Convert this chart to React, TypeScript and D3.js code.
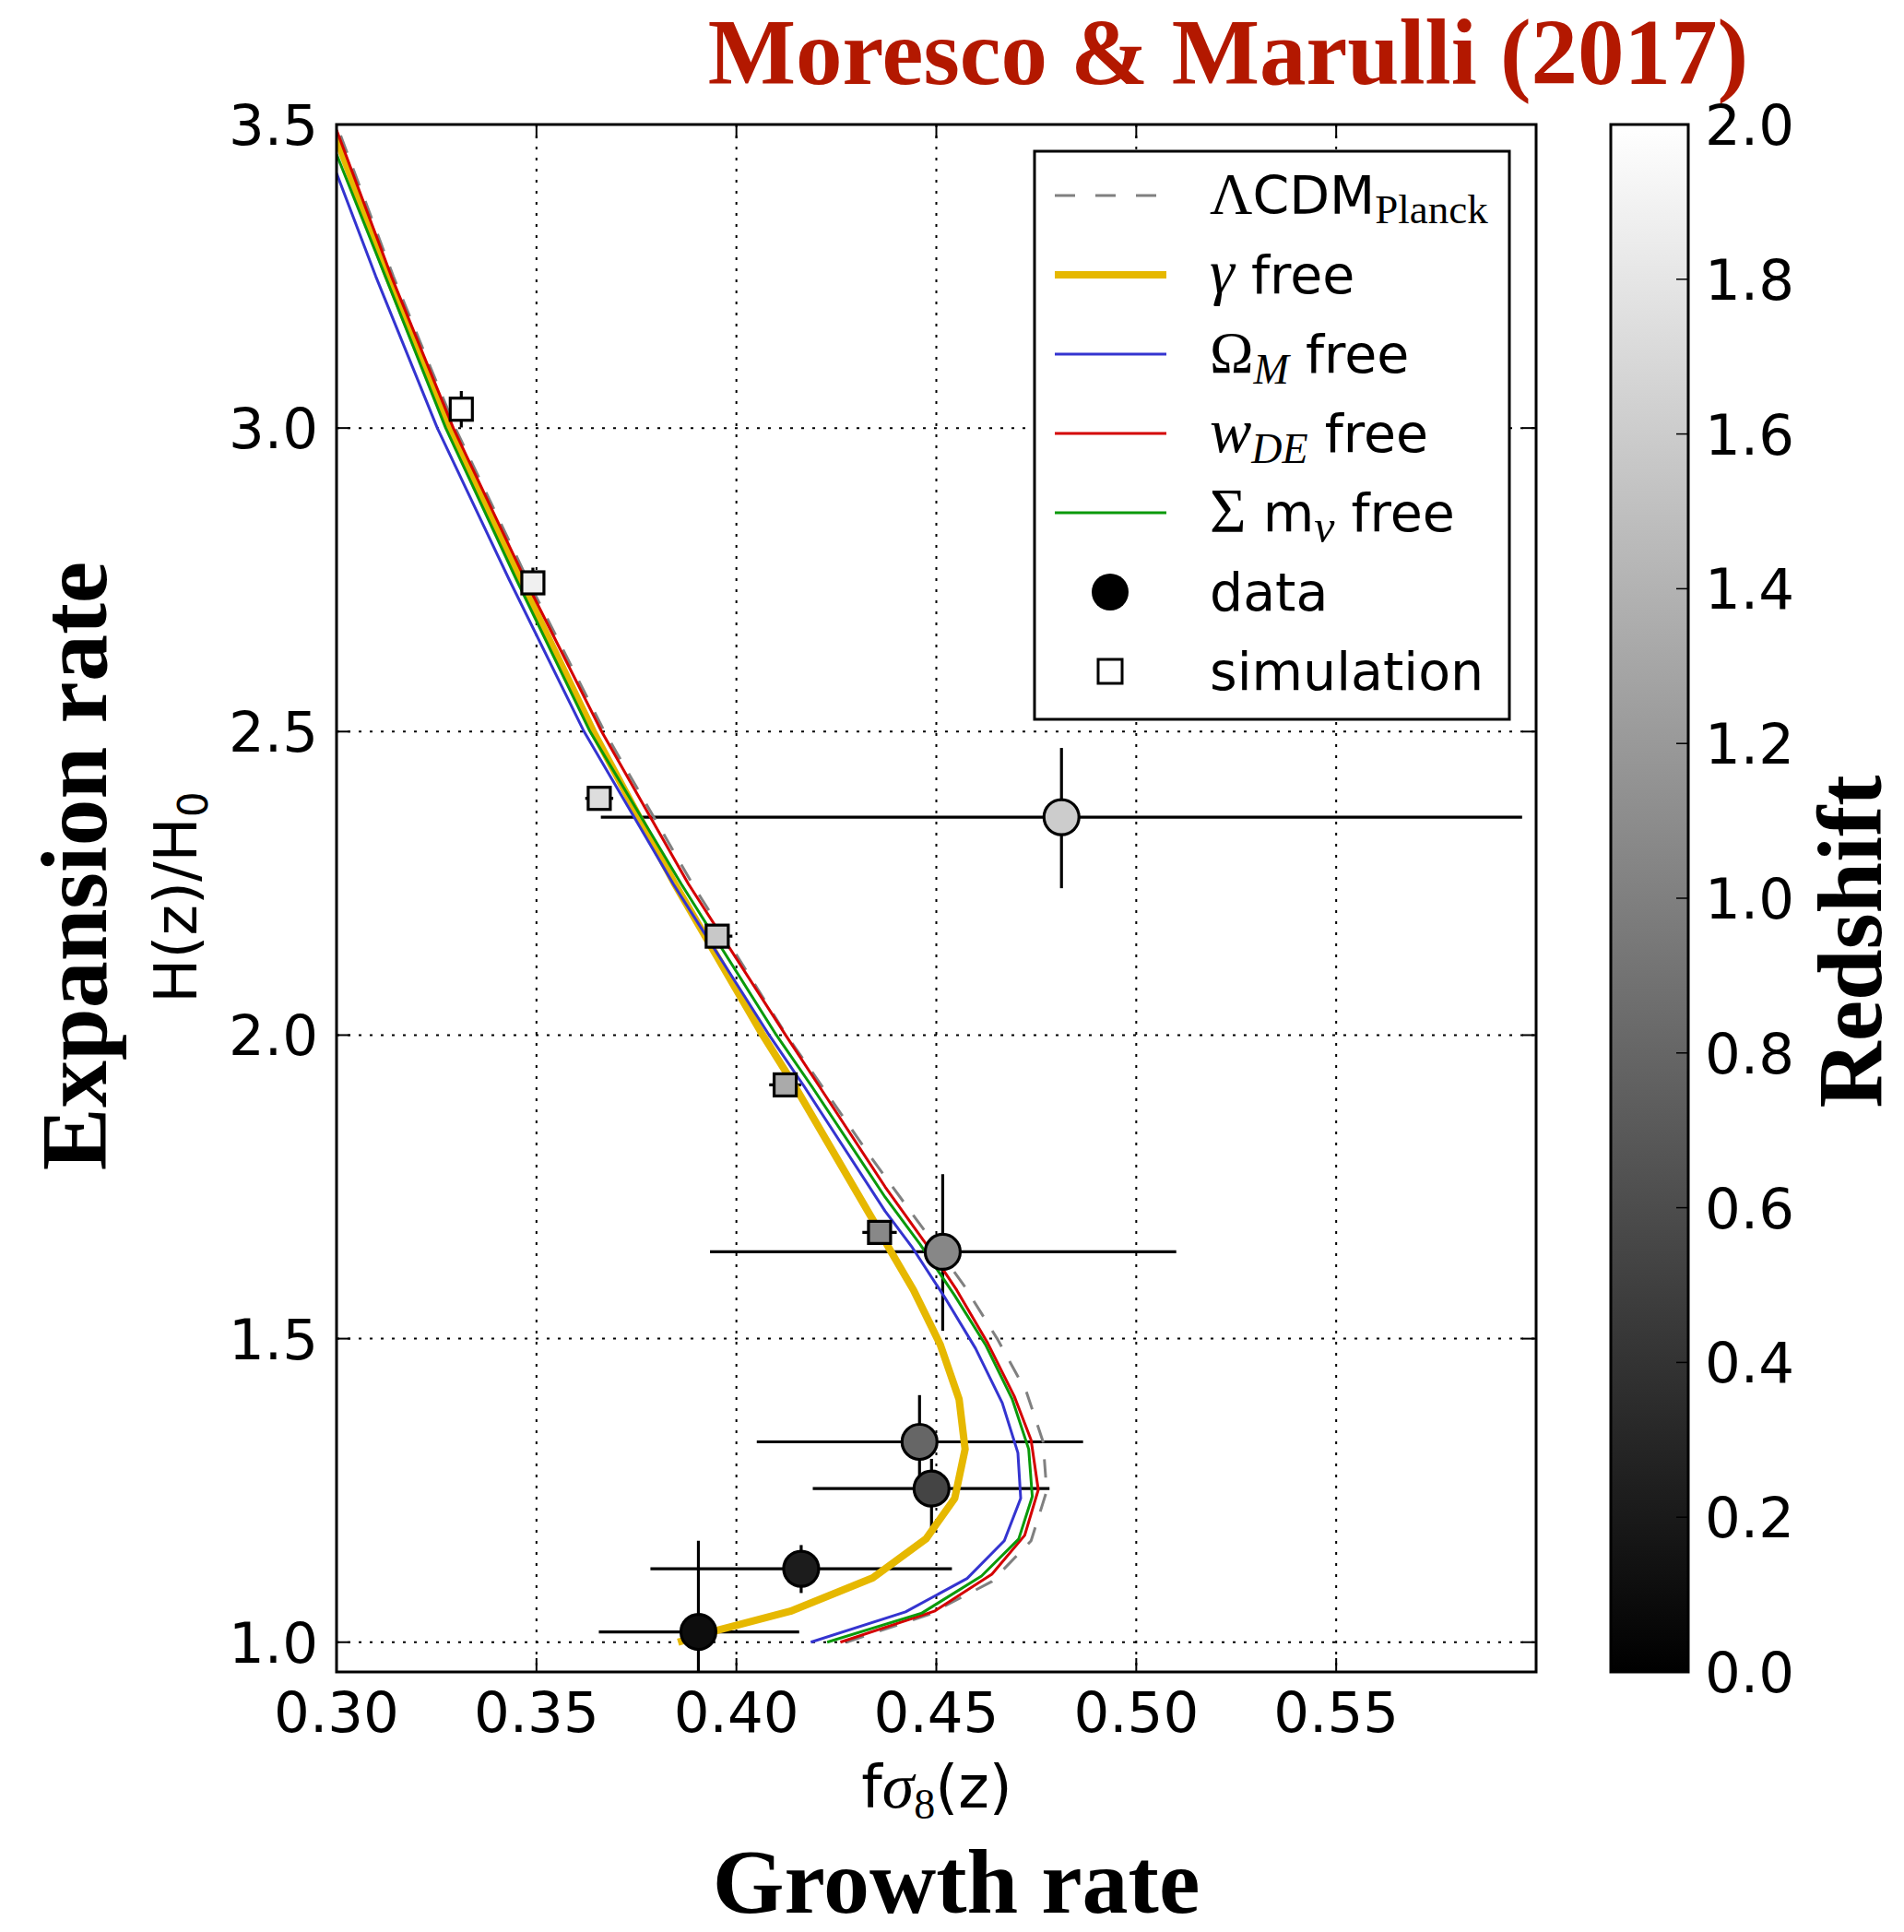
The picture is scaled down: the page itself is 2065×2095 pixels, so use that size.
import React, { useEffect, useRef } from "react";
import * as d3 from "d3";

type Pt = [number, number];

// axes
const xTicks = [0.3, 0.35, 0.4, 0.45, 0.5, 0.55];
const yTicks = [1.0, 1.5, 2.0, 2.5, 3.0, 3.5];
const zTicks = [0.0, 0.2, 0.4, 0.6, 0.8, 1.0, 1.2, 1.4, 1.6, 1.8, 2.0];

// model curves: [f sigma8(z), H(z)/H0], from z=0 upward
const lcdmPlanck: Pt[] = [
  [0.4275, 1.0], [0.4479, 1.045], [0.4639, 1.1], [0.4737, 1.167], [0.4776, 1.249],
  [0.4767, 1.33], [0.4726, 1.411], [0.4654, 1.498], [0.4572, 1.585], [0.4485, 1.665],
  [0.4334, 1.801], [0.4214, 1.916], [0.4125, 2.0], [0.389, 2.249], [0.367, 2.5],
  [0.3478, 2.75], [0.3297, 3.0], [0.3142, 3.25], [0.3, 3.5],
];
const gammaFree: Pt[] = [
  [0.3854, 1.0], [0.395, 1.019], [0.4135, 1.051], [0.4341, 1.106], [0.4474, 1.17],
  [0.4546, 1.237], [0.4572, 1.318], [0.4557, 1.4], [0.451, 1.49], [0.4443, 1.58],
  [0.4387, 1.643], [0.4342, 1.695], [0.4146, 1.916], [0.4066, 2.0], [0.3846, 2.249],
  [0.3642, 2.5], [0.346, 2.75], [0.3282, 3.0], [0.3128, 3.25], [0.3, 3.478],
];
const omegaFree: Pt[] = [
  [0.4186, 1.0], [0.4423, 1.05], [0.4577, 1.105], [0.467, 1.167], [0.4711, 1.237],
  [0.4704, 1.312], [0.4665, 1.394], [0.4598, 1.484], [0.4521, 1.568], [0.4438, 1.652],
  [0.4372, 1.71], [0.4169, 1.916], [0.4082, 2.0], [0.3842, 2.249], [0.3619, 2.5],
  [0.3432, 2.75], [0.3252, 3.0], [0.3098, 3.25], [0.3, 3.42],
];
const wdeFree: Pt[] = [
  [0.426, 1.0], [0.4495, 1.051], [0.4639, 1.112], [0.4721, 1.176], [0.4755, 1.251],
  [0.4737, 1.333], [0.4695, 1.405], [0.4629, 1.492], [0.4551, 1.58], [0.447, 1.66],
  [0.4372, 1.75], [0.4207, 1.916], [0.4123, 2.0], [0.388, 2.249], [0.3663, 2.5],
  [0.3472, 2.75], [0.3292, 3.0], [0.3137, 3.25], [0.3, 3.491],
];
const mnuFree: Pt[] = [
  [0.4227, 1.0], [0.4464, 1.048], [0.4613, 1.109], [0.4706, 1.17], [0.474, 1.24],
  [0.4731, 1.318], [0.469, 1.4], [0.4623, 1.49], [0.4546, 1.571], [0.446, 1.655],
  [0.4372, 1.733], [0.4188, 1.916], [0.41, 2.0], [0.3862, 2.249], [0.3634, 2.5],
  [0.345, 2.75], [0.3273, 3.0], [0.3122, 3.25], [0.3, 3.451],
];

// data points (circles)
const dataFs8 = [0.4813, 0.4516, 0.4458, 0.4488, 0.4162, 0.3905];
const dataFs8Lo = [0.3661, 0.3934, 0.4051, 0.4191, 0.3785, 0.3656];
const dataFs8Hi = [0.5965, 0.51, 0.4867, 0.4783, 0.4539, 0.4157];
const dataE = [2.359, 1.643, 1.33, 1.253, 1.121, 1.017];
const dataELo = [2.242, 1.513, 1.254, 1.178, 1.081, 0.9];
const dataEHi = [2.473, 1.771, 1.407, 1.302, 1.16, 1.167];
const dataZ = [1.6, 1.06, 0.8, 0.53, 0.22, 0.1];

// simulation points (squares)
const simFs8 = [0.3312, 0.3491, 0.3657, 0.3952, 0.4122, 0.4358];
const simFs8Err = [0.002, 0.002, 0.0035, 0.0038, 0.004, 0.0043];
const simE = [3.031, 2.745, 2.39, 2.163, 1.918, 1.675];
const simEErr = [0.03, 0.025, 0.018, 0.012, 0.01, 0.01];
const simZ = [2.0, 1.88, 1.73, 1.57, 1.33, 1.07];

const SANS = "'DejaVu Sans', sans-serif";
const SERIF = "'Liberation Serif', 'Times New Roman', serif";

export default function App() {
  const svgRef = useRef<SVGSVGElement>(null);

  useEffect(() => {
    if (!svgRef.current) return;
    const svg = d3.select(svgRef.current);
    svg.selectAll("*").remove();

    const plot = { left: 365, right: 1666, top: 135, bottom: 1813 };
    const xScale = d3.scaleLinear().domain([0.3, 0.6]).range([plot.left, plot.right]);
    const yScale = d3.scaleLinear().domain([0.951, 3.5]).range([plot.bottom, plot.top]);
    const zScale = d3.scaleLinear().domain([0, 2]).range([plot.bottom, plot.top]);
    const grey = d3.scaleLinear<string>().domain([0, 2]).range(["#000000", "#ffffff"]);

    svg.append("rect").attr("width", 2065).attr("height", 2095).attr("fill", "#ffffff");

    const defs = svg.append("defs");
    defs.append("clipPath").attr("id", "plot-clip")
      .append("rect")
      .attr("x", plot.left).attr("y", plot.top)
      .attr("width", plot.right - plot.left).attr("height", plot.bottom - plot.top);
    const grad = defs.append("linearGradient").attr("id", "cbar-grad")
      .attr("x1", 0).attr("y1", 1).attr("x2", 0).attr("y2", 0);
    grad.append("stop").attr("offset", "0%").attr("stop-color", grey(0));
    grad.append("stop").attr("offset", "100%").attr("stop-color", grey(2));

    // dotted grid
    const grid = svg.append("g").attr("stroke", "#000").attr("stroke-width", 2)
      .attr("stroke-dasharray", "3,9");
    xTicks.filter((t) => t > 0.3).forEach((t) => {
      grid.append("line").attr("x1", xScale(t)).attr("x2", xScale(t))
        .attr("y1", plot.top).attr("y2", plot.bottom);
    });
    yTicks.filter((t) => t < 3.5).forEach((t) => {
      grid.append("line").attr("x1", plot.left).attr("x2", plot.right)
        .attr("y1", yScale(t)).attr("y2", yScale(t));
    });

    const inner = svg.append("g").attr("clip-path", "url(#plot-clip)");

    // error bars
    const eb = inner.append("g").attr("stroke", "#000").attr("stroke-width", 3.2);
    dataFs8.forEach((v, i) => {
      eb.append("line").attr("x1", xScale(dataFs8Lo[i])).attr("x2", xScale(dataFs8Hi[i]))
        .attr("y1", yScale(dataE[i])).attr("y2", yScale(dataE[i]));
      eb.append("line").attr("x1", xScale(v)).attr("x2", xScale(v))
        .attr("y1", yScale(dataELo[i])).attr("y2", yScale(dataEHi[i]));
    });
    simFs8.forEach((v, i) => {
      eb.append("line").attr("x1", xScale(v - simFs8Err[i])).attr("x2", xScale(v + simFs8Err[i]))
        .attr("y1", yScale(simE[i])).attr("y2", yScale(simE[i]));
      eb.append("line").attr("x1", xScale(v)).attr("x2", xScale(v))
        .attr("y1", yScale(simE[i] - simEErr[i])).attr("y2", yScale(simE[i] + simEErr[i]));
    });

    // model curves
    const line = d3.line<Pt>().x((d) => xScale(d[0])).y((d) => yScale(d[1]));
    const curves: { pts: Pt[]; color: string; width: number; dash?: string }[] = [
      { pts: lcdmPlanck, color: "#808080", width: 3, dash: "20,18" },
      { pts: gammaFree, color: "#e6b800", width: 8 },
      { pts: omegaFree, color: "#3434d0", width: 3 },
      { pts: wdeFree, color: "#d40000", width: 3 },
      { pts: mnuFree, color: "#0a9a0a", width: 3 },
    ];
    curves.forEach((c) => {
      inner.append("path").datum(c.pts)
        .attr("fill", "none")
        .attr("stroke", c.color)
        .attr("stroke-width", c.width)
        .attr("stroke-linejoin", "round")
        .attr("stroke-dasharray", c.dash ?? null)
        .attr("d", line);
    });

    // markers
    simFs8.forEach((v, i) => {
      inner.append("rect")
        .attr("x", xScale(v) - 12).attr("y", yScale(simE[i]) - 12)
        .attr("width", 24).attr("height", 24)
        .attr("fill", grey(simZ[i])).attr("stroke", "#000").attr("stroke-width", 3.2);
    });
    dataFs8.forEach((v, i) => {
      inner.append("circle")
        .attr("cx", xScale(v)).attr("cy", yScale(dataE[i])).attr("r", 19)
        .attr("fill", grey(dataZ[i])).attr("stroke", "#000").attr("stroke-width", 3.2);
    });

    // frame + inward ticks
    svg.append("rect")
      .attr("x", plot.left).attr("y", plot.top)
      .attr("width", plot.right - plot.left).attr("height", plot.bottom - plot.top)
      .attr("fill", "none").attr("stroke", "#000").attr("stroke-width", 3);
    const tk = svg.append("g").attr("stroke", "#000").attr("stroke-width", 2);
    xTicks.forEach((t) => {
      tk.append("line").attr("x1", xScale(t)).attr("x2", xScale(t))
        .attr("y1", plot.bottom).attr("y2", plot.bottom - 15);
      tk.append("line").attr("x1", xScale(t)).attr("x2", xScale(t))
        .attr("y1", plot.top).attr("y2", plot.top + 15);
    });
    yTicks.forEach((t) => {
      tk.append("line").attr("x1", plot.left).attr("x2", plot.left + 15)
        .attr("y1", yScale(t)).attr("y2", yScale(t));
      tk.append("line").attr("x1", plot.right).attr("x2", plot.right - 15)
        .attr("y1", yScale(t)).attr("y2", yScale(t));
    });

    // tick labels
    xTicks.forEach((t) => {
      svg.append("text").attr("x", xScale(t)).attr("y", 1878)
        .attr("text-anchor", "middle").style("font-family", SANS).style("font-size", "61px")
        .text(d3.format(".2f")(t));
    });
    yTicks.forEach((t) => {
      svg.append("text").attr("x", 345).attr("y", yScale(t) + 22)
        .attr("text-anchor", "end").style("font-family", SANS).style("font-size", "61px")
        .text(d3.format(".1f")(t));
    });

    // legend
    const lg = svg.append("g");
    lg.append("rect").attr("x", 1122).attr("y", 164).attr("width", 515).attr("height", 616)
      .attr("fill", "#fff").attr("stroke", "#000").attr("stroke-width", 3);
    const rowY = (i: number) => 212 + 86 * i;
    curves.forEach((c, i) => {
      lg.append("line").attr("x1", 1144).attr("x2", 1265)
        .attr("y1", rowY(i)).attr("y2", rowY(i))
        .attr("stroke", c.color).attr("stroke-width", c.width)
        .attr("stroke-dasharray", c.dash ? "22,22" : null);
    });
    lg.append("circle").attr("cx", 1204).attr("cy", rowY(5)).attr("r", 20).attr("fill", "#000");
    lg.append("rect").attr("x", 1191).attr("y", rowY(6) - 13).attr("width", 26).attr("height", 26)
      .attr("fill", "#fff").attr("stroke", "#000").attr("stroke-width", 3);

    type Piece = { t: string; font: string; size: number; italic?: boolean; dy?: number };
    const labels: Piece[][] = [
      [{ t: "Λ", font: SERIF, size: 64 }, { t: "CDM", font: SANS, size: 57 },
        { t: "Planck", font: SERIF, size: 45, dy: 10 }],
      [{ t: "γ", font: SERIF, size: 68, italic: true }, { t: " free", font: SANS, size: 57 }],
      [{ t: "Ω", font: SERIF, size: 64 }, { t: "M", font: SERIF, size: 46, italic: true, dy: 12 },
        { t: " free", font: SANS, size: 57, dy: -12 }],
      [{ t: "w", font: SERIF, size: 68, italic: true }, { t: "DE", font: SERIF, size: 46, italic: true, dy: 12 },
        { t: " free", font: SANS, size: 57, dy: -12 }],
      [{ t: "Σ", font: SERIF, size: 68 }, { t: " m", font: SANS, size: 57 },
        { t: "ν", font: SERIF, size: 50, italic: true, dy: 12 }, { t: " free", font: SANS, size: 57, dy: -12 }],
      [{ t: "data", font: SANS, size: 57 }],
      [{ t: "simulation", font: SANS, size: 57 }],
    ];
    labels.forEach((pieces, i) => {
      const txt = lg.append("text").attr("x", 1312).attr("y", rowY(i) + 20);
      pieces.forEach((p) => {
        txt.append("tspan").text(p.t)
          .attr("dy", p.dy ?? 0)
          .style("font-family", p.font)
          .style("font-size", `${p.size}px`)
          .style("font-style", p.italic ? "italic" : "normal");
      });
    });

    // colorbar
    const cb = { left: 1747, right: 1831 };
    svg.append("rect").attr("x", cb.left).attr("y", plot.top)
      .attr("width", cb.right - cb.left).attr("height", plot.bottom - plot.top)
      .attr("fill", "url(#cbar-grad)").attr("stroke", "#000").attr("stroke-width", 3);
    zTicks.forEach((t) => {
      svg.append("line").attr("x1", cb.right - 13).attr("x2", cb.right)
        .attr("y1", zScale(t)).attr("y2", zScale(t))
        .attr("stroke", "#000").attr("stroke-width", 1.5);
      svg.append("text").attr("x", 1849).attr("y", zScale(t) + 22)
        .style("font-family", SANS).style("font-size", "61px")
        .text(d3.format(".1f")(t));
    });
    svg.append("text")
      .attr("transform", "translate(2040,1021) rotate(-90)")
      .attr("text-anchor", "middle")
      .style("font-family", SERIF).style("font-weight", "bold").style("font-size", "100px")
      .text("Redshift");

    // titles
    svg.append("text").attr("x", 1332).attr("y", 91).attr("text-anchor", "middle")
      .attr("fill", "#b31800")
      .style("font-family", SERIF).style("font-weight", "bold").style("font-size", "101px")
      .text("Moresco & Marulli (2017)");

    svg.append("text")
      .attr("transform", "translate(115,939) rotate(-90)")
      .attr("text-anchor", "middle")
      .style("font-family", SERIF).style("font-weight", "bold").style("font-size", "102px")
      .text("Expansion rate");

    const yl = svg.append("text")
      .attr("transform", "translate(213,973) rotate(-90)")
      .attr("text-anchor", "middle")
      .style("font-family", SANS).style("font-size", "64px");
    yl.append("tspan").text("H(z)/H");
    yl.append("tspan").text("0").attr("dy", 12).style("font-size", "44px");

    const xl = svg.append("text").attr("x", 1016).attr("y", 1960)
      .attr("text-anchor", "middle")
      .style("font-family", SANS).style("font-size", "64px");
    xl.append("tspan").text("f");
    xl.append("tspan").text("σ").style("font-family", SERIF).style("font-style", "italic")
      .style("font-size", "70px");
    xl.append("tspan").text("8").attr("dy", 12).style("font-family", SERIF).style("font-size", "46px");
    xl.append("tspan").text("(z)").attr("dy", -12);

    svg.append("text").attr("x", 1037).attr("y", 2074).attr("text-anchor", "middle")
      .style("font-family", SERIF).style("font-weight", "bold").style("font-size", "100px")
      .text("Growth rate");
  }, []);

  return (
    <svg
      ref={svgRef}
      width={2065}
      height={2095}
      style={{ position: "absolute", left: 0, top: 0, display: "block" }}
    />
  );
}
